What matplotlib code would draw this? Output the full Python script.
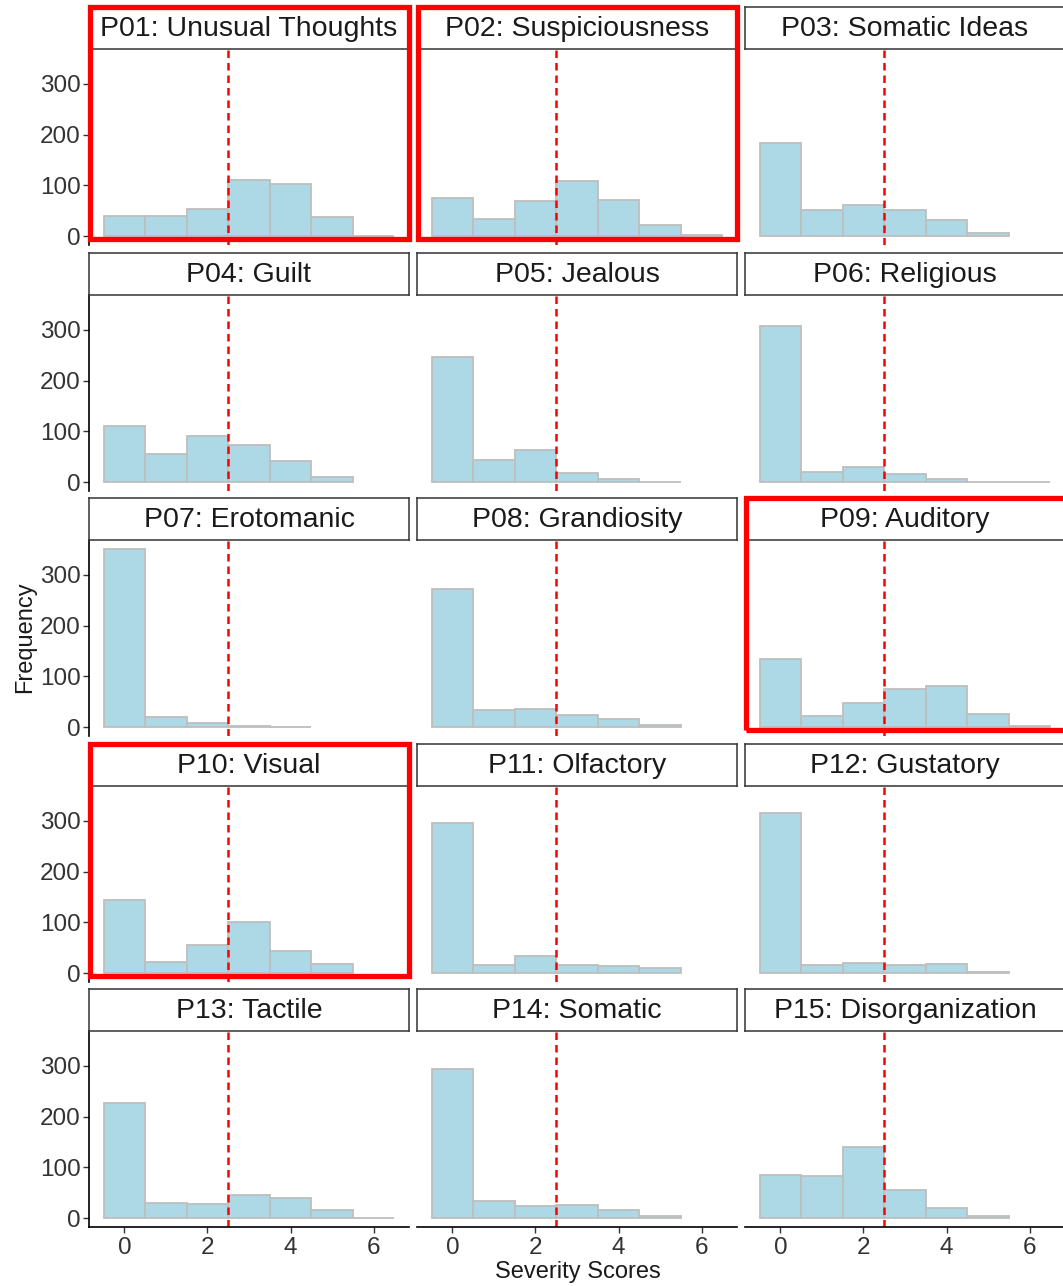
import matplotlib
matplotlib.use("Agg")
import matplotlib.pyplot as plt
from matplotlib.patches import Rectangle
import numpy as np

plt.rcParams['font.family'] = ['Liberation Sans', 'DejaVu Sans']

# 各项目名称
titles = ['P01: Unusual Thoughts', 'P02: Suspiciousness', 'P03: Somatic Ideas',
          'P04: Guilt', 'P05: Jealous', 'P06: Religious',
          'P07: Erotomanic', 'P08: Grandiosity', 'P09: Auditory',
          'P10: Visual', 'P11: Olfactory', 'P12: Gustatory',
          'P13: Tactile', 'P14: Somatic', 'P15: Disorganization']

scores = [0, 1, 2, 3, 4, 5, 6]

# 每个分数的频数
p01 = [39, 39, 53, 111, 103, 38, 1]
p02 = [75, 34, 70, 109, 72, 21, 2]
p03 = [183, 52, 62, 51, 31, 6, 0]
p04 = [110, 55, 91, 73, 41, 11, 0]
p05 = [247, 43, 64, 18, 7, 1, 0]
p06 = [307, 20, 29, 16, 7, 1, 1]
p07 = [351, 20, 8, 2, 1, 0, 0]
p08 = [272, 34, 36, 24, 16, 4, 0]
p09 = [134, 22, 48, 76, 81, 26, 2]
p10 = [144, 22, 56, 101, 43, 17, 0]
p11 = [296, 16, 34, 16, 14, 10, 0]
p12 = [316, 16, 20, 16, 17, 3, 0]
p13 = [227, 29, 27, 46, 39, 16, 1]
p14 = [294, 33, 23, 25, 15, 5, 0]
p15 = [84, 82, 140, 55, 20, 5, 0]
counts = [p01, p02, p03, p04, p05, p06, p07, p08, p09, p10, p11, p12, p13, p14, p15]

cutoff = 2.5
highlight = ['P01: Unusual Thoughts', 'P02: Suspiciousness', 'P09: Auditory', 'P10: Visual']

W, H = 1063, 1286
fig = plt.figure(figsize=(W / 100, H / 100), dpi=100)

col_left = [89, 417, 745]
row_top = [49, 295, 540, 786, 1031]
pw, ph, sh = 320, 196, 42

ymax = max(max(c) for c in counts)

for i, (title, cnt) in enumerate(zip(titles, counts)):
    r, c = divmod(i, 3)
    x0, y0 = col_left[c], row_top[r]
    ax = fig.add_axes([x0 / W, 1 - (y0 + ph) / H, pw / W, ph / H])
    # 最后一个为0的柱子不画
    last = max(k for k, v in enumerate(cnt) if v > 0)
    ax.bar(scores[:last + 1], cnt[:last + 1], width=1, color='#ADD8E6',
           edgecolor='#BEBEBE', linewidth=1.3)
    ax.axvline(cutoff, color='#FF0000', linestyle=(0, (3, 2)), linewidth=1.8)
    ax.set_xlim(-0.85, 6.85)
    ax.set_ylim(-0.05 * ymax, 1.05 * ymax)
    for s in ax.spines.values():
        s.set_visible(False)
    ax.tick_params(colors='#333333', labelsize=17.5, length=4, width=1)
    if c == 0:
        ax.spines['left'].set_visible(True)
        ax.spines['left'].set_linewidth(1.2)
        ax.set_yticks([0, 100, 200, 300])
        ax.tick_params(axis='y', pad=2)
    else:
        ax.set_yticks([])
    if r == 4:
        ax.spines['bottom'].set_visible(True)
        ax.spines['bottom'].set_linewidth(1.2)
        ax.set_xticks([0, 2, 4, 6])
        ax.tick_params(axis='x', pad=3)
    else:
        ax.set_xticks([])

    # 标题框
    sax = fig.add_axes([x0 / W, 1 - y0 / H, pw / W, sh / H])
    sax.set_xticks([])
    sax.set_yticks([])
    for s in sax.spines.values():
        s.set_linewidth(1.1)
        s.set_color('#333333')
    sax.text(0.5, 0.47, title, ha='center', va='center', fontsize=20.5,
             color='#1A1A1A', transform=sax.transAxes)

    if title in highlight:
        rect = Rectangle(((x0 + 0.5) / W, 1 - (y0 + ph - 6) / H), (pw - 0.5) / W,
                         (ph + sh - 6) / H, transform=fig.transFigure,
                         fill=False, edgecolor='#FF0000', linewidth=3.8, zorder=10)
        fig.patches.append(rect)

fig.text(578 / W, 1 - 1272 / H, 'Severity Scores', ha='center', va='center',
         fontsize=17, color='#1A1A1A')
fig.text(25 / W, 1 - 637 / H, 'Frequency', ha='center', va='center',
         rotation=90, fontsize=17, color='#1A1A1A')

fig.savefig('out.png', dpi=100)
